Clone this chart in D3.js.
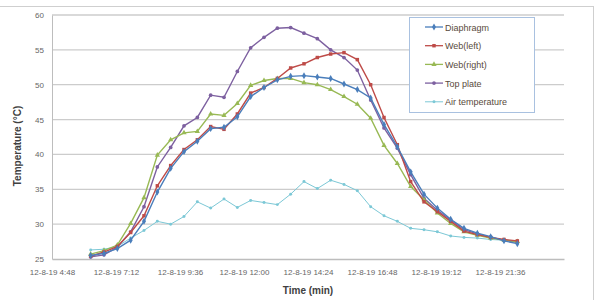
<!DOCTYPE html>
<html>
<head>
	<meta charset="utf-8">
	<title>Temperature</title>
	<style>
		html, body { margin: 0; background: white; }
		svg { display: block; font-family: "Liberation Sans", "DejaVu Sans", sans-serif; }
	</style>
	<script src="https://cdn.jsdelivr.net/npm/d3@7/dist/d3.min.js"></script>
</head>
<body>
	<svg id="svg" width="599" height="300"></svg>
	<script>
		// times in hours (half-hourly readings from 6:15 to 22:15)
		const times = d3.range(33).map(i => 6.25 + 0.5 * i);

		const diaphragm = [25.5, 25.8, 26.5, 27.7, 30.4, 34.6, 38.0, 40.4, 41.9, 43.7, 43.9, 45.4, 48.3, 49.6, 50.7, 51.2, 51.3,
			51.1, 50.9, 50.1, 49.3, 48.1, 44.3, 41.1, 37.5, 34.3, 32.3, 30.7, 29.4, 28.7, 28.2, 27.6, 27.2];
		const webLeft = [25.4, 26.0, 26.8, 28.8, 31.2, 35.5, 38.4, 40.7, 42.1, 44.0, 43.6, 45.8, 48.8, 49.6, 50.9, 52.4, 53.0,
			53.9, 54.4, 54.6, 53.6, 50.0, 45.3, 41.4, 36.1, 33.2, 31.8, 30.4, 29.0, 28.5, 28.1, 27.8, 27.6];
		const webRight = [25.7, 26.2, 27.0, 30.1, 33.8, 39.9, 42.1, 43.1, 43.3, 45.8, 45.6, 47.3, 49.9, 50.6, 50.9, 50.9, 50.3,
			50.0, 49.3, 48.3, 47.2, 45.2, 41.3, 38.7, 35.4, 33.5, 31.6, 30.1, 28.9, 28.4, 28.0, 27.7, 27.5];
		const topPlate = [25.3, 25.6, 26.7, 28.9, 32.5, 38.2, 41.0, 44.1, 45.3, 48.5, 48.2, 51.9, 55.3, 56.8, 58.1, 58.2, 57.4,
			56.6, 55.0, 53.9, 52.1, 47.8, 43.8, 40.9, 37.1, 33.7, 32.0, 30.6, 29.2, 28.6, 28.1, 27.7, 27.4];
		const airTemp = [26.3, 26.4, 26.8, 28.0, 29.1, 30.4, 30.0, 31.1, 33.2, 32.3, 33.6, 32.4, 33.4, 33.1, 32.8, 34.3, 36.1,
			35.1, 36.3, 35.7, 34.8, 32.5, 31.2, 30.4, 29.4, 29.2, 28.9, 28.3, 28.1, 28.0, 27.8, 27.7, 27.5];

		const seriesNames = ['Diaphragm', 'Web(left)', 'Web(right)', 'Top plate', 'Air temperature'];
		const xTicks = [4.8, 7.2, 9.6, 12, 14.4, 16.8, 19.2, 21.6];
		const yTicks = [25, 30, 35, 40, 45, 50, 55, 60];

		const colors = ['#4a7ebb', '#be4b48', '#98b954', '#7d60a0', '#7cc8d6'];
		const symbols = [d3.symbolDiamond, d3.symbolSquare, d3.symbolTriangle, d3.symbolCircle, d3.symbolCircle];
		const symSize = [14, 12, 12, 11, 7];

		const series = [diaphragm, webLeft, webRight, topPlate, airTemp].map((vals, k) => ({
			name: seriesNames[k],
			color: colors[k],
			values: vals.map((v, i) => ({ t: times[i], v: v }))
		}));

		const svg = d3.select('#svg');
		const plotL = 52, plotR = 564, plotT = 15, plotB = 259;

		const x = d3.scaleLinear().domain([4.8, 24]).range([plotL, plotR]);
		const y = d3.scaleLinear().domain([25, 60]).range([plotB, plotT]);

		// chart border (top and right)
		svg.append('line').attr('x1', 0).attr('x2', 593).attr('y1', 6.5).attr('y2', 6.5)
			.attr('stroke', '#cfcfcf');
		svg.append('line').attr('x1', 593.5).attr('x2', 593.5).attr('y1', 6).attr('y2', 300)
			.attr('stroke', '#cfcfcf');

		// gridlines
		svg.append('g')
			.selectAll('line')
			.data(yTicks.slice(1))
			.join('line')
			.attr('x1', plotL).attr('x2', plotR)
			.attr('y1', d => y(d)).attr('y2', d => y(d))
			.attr('stroke', '#cccccc')
			.attr('stroke-width', 1.3);

		const fmtTime = h => {
			const hh = Math.floor(h + 1e-6), mm = Math.round((h - hh) * 60);
			return '12-8-19 ' + hh + ':' + String(mm).padStart(2, '0');
		};

		// axes
		const yAxis = svg.append('g')
			.attr('transform', `translate(${plotL},0)`)
			.call(d3.axisLeft(y).tickValues(yTicks).tickSize(0).tickPadding(8));
		yAxis.select('.domain').attr('stroke', '#bdbdbd');
		yAxis.selectAll('text').attr('font-size', 8).attr('fill', '#666666')
			.attr('font-family', '"Liberation Sans", sans-serif');

		const xAxis = svg.append('g')
			.attr('transform', `translate(0,${plotB})`)
			.call(d3.axisBottom(x).tickValues(xTicks).tickFormat(fmtTime).tickSize(0).tickPadding(10));
		xAxis.select('.domain').attr('stroke', '#bdbdbd').attr('stroke-width', 1.3);
		xAxis.selectAll('text').attr('font-size', 8).attr('fill', '#666666')
			.attr('font-family', '"Liberation Sans", sans-serif');

		// axis titles
		svg.append('text')
			.attr('transform', 'translate(21,146) rotate(-90)')
			.attr('text-anchor', 'middle')
			.attr('font-size', 10)
			.attr('font-weight', 'bold')
			.attr('fill', '#404040')
			.text('Temperature (°C)');

		svg.append('text')
			.attr('x', 308).attr('y', 294)
			.attr('text-anchor', 'middle')
			.attr('font-size', 10)
			.attr('font-weight', 'bold')
			.attr('fill', '#404040')
			.text('Time (min)');

		// lines and markers
		const line = d3.line().x(d => x(d.t)).y(d => y(d.v));

		const groups = svg.append('g')
			.selectAll('g')
			.data(series.slice().reverse())
			.join('g');

		groups.append('path')
			.attr('d', d => line(d.values))
			.attr('fill', 'none')
			.attr('stroke', d => d.color)
			.attr('stroke-width', d => d.name === 'Air temperature' ? 1 : 1.4);

		groups.each(function (s) {
			const k = seriesNames.indexOf(s.name);
			d3.select(this).selectAll('path.m')
				.data(s.values)
				.join('path')
				.attr('class', 'm')
				.attr('transform', d => `translate(${x(d.t)},${y(d.v)})`)
				.attr('d', d3.symbol().type(symbols[k]).size(symSize[k]))
				.attr('fill', s.color);
		});

		// legend
		const legend = svg.append('g').attr('transform', 'translate(409,17)');
		legend.append('rect')
			.attr('x', 0.5).attr('y', 0.5)
			.attr('width', 125).attr('height', 95)
			.attr('fill', 'white')
			.attr('stroke', '#a9c1e0');

		const items = legend.selectAll('g.item')
			.data(series)
			.join('g')
			.attr('class', 'item')
			.attr('transform', (d, i) => `translate(0,${10 + i * 18.7})`);

		items.append('line')
			.attr('x1', 16).attr('x2', 34)
			.attr('stroke', d => d.color)
			.attr('stroke-width', d => d.name === 'Air temperature' ? 1 : 1.3);

		items.append('path')
			.attr('transform', 'translate(25,0)')
			.attr('d', (d, i) => d3.symbol().type(symbols[i]).size(symSize[i])())
			.attr('fill', d => d.color);

		items.append('text')
			.attr('x', 36).attr('y', 3.5)
			.attr('font-size', 9)
			.attr('fill', '#594a3c')
			.text(d => d.name);
	</script>
</body>
</html>
